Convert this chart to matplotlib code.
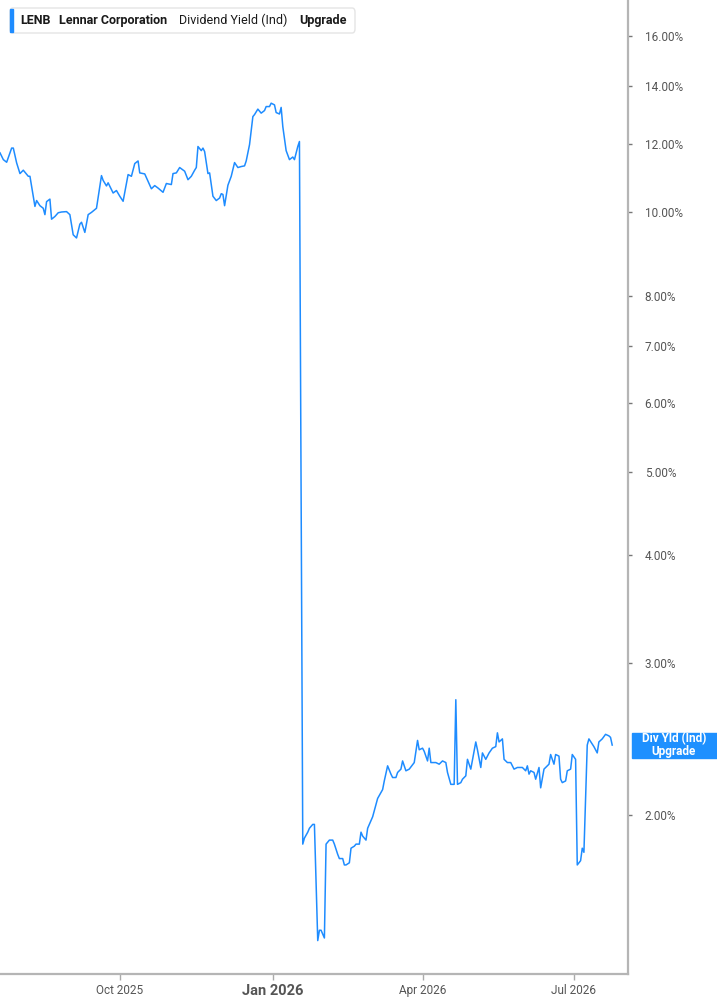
import matplotlib
matplotlib.use("Agg")
import matplotlib.pyplot as plt
import pandas as pd
from matplotlib.patches import FancyBboxPatch, Rectangle
from matplotlib.ticker import FixedLocator, FuncFormatter, NullLocator
import matplotlib.dates as mdates

plt.rcParams['font.family'] = ['Roboto', 'DejaVu Sans']

# LENB dividend yield (%)
dates = [
    '2025-07-21', '2025-07-23', '2025-07-25', '2025-07-28', '2025-07-29', '2025-07-31',
    '2025-08-02', '2025-08-04', '2025-08-07', '2025-08-08', '2025-08-11', '2025-08-12',
    '2025-08-14', '2025-08-16', '2025-08-17', '2025-08-18', '2025-08-20', '2025-08-21',
    '2025-08-23', '2025-08-25', '2025-08-27', '2025-08-30', '2025-09-01', '2025-09-03',
    '2025-09-05', '2025-09-07', '2025-09-08', '2025-09-10', '2025-09-12', '2025-09-14',
    '2025-09-17', '2025-09-20', '2025-09-21', '2025-09-23', '2025-09-24', '2025-09-27',
    '2025-09-29', '2025-10-01', '2025-10-03', '2025-10-06', '2025-10-08', '2025-10-10',
    '2025-10-12', '2025-10-13', '2025-10-16', '2025-10-18', '2025-10-20', '2025-10-22',
    '2025-10-24', '2025-10-27', '2025-10-29', '2025-11-01', '2025-11-02', '2025-11-04',
    '2025-11-06', '2025-11-09', '2025-11-11', '2025-11-13', '2025-11-15', '2025-11-16',
    '2025-11-17', '2025-11-19', '2025-11-20', '2025-11-21', '2025-11-23', '2025-11-24',
    '2025-11-26', '2025-11-28', '2025-11-30', '2025-12-01', '2025-12-02', '2025-12-03',
    '2025-12-05', '2025-12-07', '2025-12-09', '2025-12-11', '2025-12-13', '2025-12-15',
    '2025-12-16', '2025-12-18', '2025-12-20', '2025-12-21', '2025-12-23', '2025-12-25',
    '2025-12-27', '2025-12-28', '2025-12-30', '2025-12-31', '2026-01-02', '2026-01-03',
    '2026-01-05', '2026-01-06', '2026-01-07', '2026-01-09', '2026-01-11', '2026-01-13',
    '2026-01-14', '2026-01-16', '2026-01-17',
    '2026-01-19', '2026-01-20', '2026-01-22', '2026-01-23', '2026-01-25', '2026-01-26',
    '2026-01-28', '2026-01-29', '2026-01-30', '2026-02-01', '2026-02-02', '2026-02-04',
    '2026-02-06', '2026-02-07', '2026-02-09', '2026-02-10', '2026-02-12', '2026-02-13',
    '2026-02-14', '2026-02-16', '2026-02-17', '2026-02-19', '2026-02-20', '2026-02-22',
    '2026-02-23', '2026-02-24', '2026-02-26', '2026-02-27', '2026-03-01', '2026-03-02',
    '2026-03-05', '2026-03-08', '2026-03-09', '2026-03-11', '2026-03-13', '2026-03-14',
    '2026-03-16', '2026-03-17', '2026-03-19', '2026-03-20', '2026-03-22', '2026-03-24',
    '2026-03-27', '2026-03-29', '2026-03-30', '2026-04-01', '2026-04-02', '2026-04-04',
    '2026-04-05', '2026-04-06', '2026-04-09', '2026-04-11', '2026-04-13', '2026-04-15',
    '2026-04-16', '2026-04-18', '2026-04-20', '2026-04-21', '2026-04-22', '2026-04-24',
    '2026-04-25', '2026-04-27', '2026-04-28', '2026-04-30', '2026-05-03', '2026-05-04',
    '2026-05-06', '2026-05-07', '2026-05-09', '2026-05-11', '2026-05-13', '2026-05-15',
    '2026-05-16', '2026-05-17', '2026-05-19', '2026-05-20', '2026-05-22', '2026-05-24',
    '2026-05-25', '2026-05-26', '2026-05-28', '2026-05-29', '2026-05-31', '2026-06-02',
    '2026-06-03', '2026-06-04', '2026-06-05', '2026-06-07', '2026-06-08', '2026-06-10',
    '2026-06-11', '2026-06-13', '2026-06-15', '2026-06-16', '2026-06-17', '2026-06-19',
    '2026-06-20', '2026-06-22', '2026-06-23', '2026-06-24', '2026-06-26', '2026-06-27',
    '2026-06-29', '2026-06-30', '2026-07-02', '2026-07-03', '2026-07-05', '2026-07-06',
    '2026-07-07', '2026-07-09', '2026-07-10', '2026-07-13', '2026-07-15', '2026-07-16',
    '2026-07-18', '2026-07-20', '2026-07-22', '2026-07-23', '2026-07-24',
]
yields = [
    11.71, 11.50, 11.42, 11.86, 11.86, 11.40,
    11.08, 11.18, 11.00, 11.00, 10.15, 10.31,
    10.17, 10.10, 9.93, 10.28, 10.35, 9.81,
    9.88, 9.98, 10.00, 10.01, 9.93, 9.41,
    9.33, 9.68, 9.73, 9.47, 9.93, 9.99,
    10.10, 11.02, 10.88, 10.72, 10.81, 10.52,
    10.59, 10.43, 10.29, 11.05, 11.00, 11.38,
    11.46, 11.10, 11.07, 10.85, 10.64, 10.73,
    10.66, 10.54, 10.79, 10.76, 11.08, 11.10,
    11.26, 11.15, 10.90, 11.00, 11.18, 11.26,
    11.91, 11.78, 11.86, 11.75, 11.08, 11.10,
    10.43, 10.31, 10.38, 10.50, 10.48, 10.17,
    10.74, 11.00, 11.41, 11.26, 11.29, 11.31,
    11.46, 11.97, 12.90, 12.97, 13.16, 13.02,
    13.11, 13.25, 13.25, 13.37, 13.31, 13.04,
    12.99, 13.22, 12.56, 11.78, 11.50, 11.58,
    11.50, 11.91, 12.07,
    1.85, 1.88, 1.91, 1.93, 1.95, 1.95,
    1.43, 1.47, 1.47, 1.44, 1.85, 1.87,
    1.87, 1.85, 1.80, 1.78, 1.78, 1.75,
    1.75, 1.76, 1.83, 1.84, 1.85, 1.85,
    1.91, 1.89, 1.87, 1.93, 1.97, 1.99,
    2.09, 2.14, 2.19, 2.28, 2.23, 2.21,
    2.21, 2.24, 2.26, 2.31, 2.25, 2.26,
    2.30, 2.44, 2.38, 2.39, 2.37, 2.31,
    2.39, 2.30, 2.30, 2.29, 2.31, 2.30,
    2.24, 2.17, 2.17, 2.72, 2.17, 2.18,
    2.20, 2.22, 2.32, 2.26, 2.43, 2.38,
    2.27, 2.36, 2.32, 2.36, 2.39, 2.40,
    2.49, 2.43, 2.45, 2.32, 2.30, 2.30,
    2.28, 2.26, 2.27, 2.27, 2.27, 2.25,
    2.28, 2.23, 2.25, 2.24, 2.20, 2.27,
    2.15, 2.26, 2.28, 2.29, 2.35, 2.29,
    2.35, 2.34, 2.20, 2.18, 2.19, 2.25,
    2.26, 2.35, 2.32, 1.75, 1.77, 1.83,
    1.81, 2.41, 2.45, 2.40, 2.36, 2.43,
    2.45, 2.48, 2.47, 2.46, 2.41,
]

y_ticks = [2, 3, 4, 5, 6, 7, 8, 10, 12, 14, 16]
x_ticks = ['2025-10-01', '2026-01-01', '2026-04-01', '2026-07-01']
x_labels = ['Oct 2025', 'Jan 2026', 'Apr 2026', 'Jul 2026']

W, H = 717, 1005
BLUE = '#1e8cff'

fig = plt.figure(figsize=(W / 100, H / 100), dpi=100)
ax = fig.add_axes([0, 31 / H, 628 / W, 1 - 31 / H])

x = pd.to_datetime(dates)
ax.plot(x, yields, color=BLUE, lw=1.1)

ax.set_yscale('log')
ax.set_ylim(1.308, 17.61)
ax.set_xlim(pd.Timestamp('2025-07-21'), pd.Timestamp('2026-08-02 12:00'))

# y axis on the right
ax.yaxis.tick_right()
ax.yaxis.set_major_locator(FixedLocator(y_ticks))
ax.yaxis.set_minor_locator(NullLocator())
ax.yaxis.set_major_formatter(FuncFormatter(lambda v, p: f'{v:.2f}%'))
ax.tick_params(axis='y', length=3, width=1, color='#777777', pad=9,
               labelsize=8.5, labelcolor='#555555')

ax.set_xticks(pd.to_datetime(x_ticks))
ax.set_xticklabels(x_labels)
ax.tick_params(axis='x', length=4, width=1, color='#aaaaaa', pad=3,
               labelsize=8.5, labelcolor='#555555')
for lbl in ax.get_xticklabels():
    if lbl.get_text() == 'Jan 2026':
        lbl.set_fontweight('bold')
        lbl.set_fontsize(10.5)

for s in ['left', 'top']:
    ax.spines[s].set_visible(False)
for s in ['right', 'bottom']:
    ax.spines[s].set_color('#b5b5b5')
    ax.spines[s].set_linewidth(1.6)


def fx(px):
    return px / W


def fy(py):
    return 1 - py / H


# header box
fig.patches.append(FancyBboxPatch((fx(10), fy(33)), 345 / W, 25 / H,
                                  boxstyle='round,pad=0,rounding_size=0.004',
                                  transform=fig.transFigure, fc='white',
                                  ec='#e4e4e4', lw=1))
fig.patches.append(Rectangle((fx(10), fy(32)), 3 / W, 23 / H,
                             transform=fig.transFigure, color=BLUE))
hdr = [('LENB', 20, 'bold'), ('Lennar Corporation', 59, 'bold'),
       ('Dividend Yield (Ind)', 179, 'normal'), ('Upgrade', 299, 'bold')]
for txt, px, wt in hdr:
    fig.text(fx(px), fy(20.5), txt, fontsize=9, fontweight=wt, color='#1a1a1a',
             va='center', ha='left')

# last value label
y_last = ax.transData.transform((mdates.date2num(x[-1]), yields[-1]))[1]
fig.patches.append(Rectangle((fx(632), (y_last - 12.5) / H), (W - 632) / W, 25 / H,
                             transform=fig.transFigure, color='#1e90ff'))
fig.text(fx(674), y_last / H, 'Div Yld (Ind)\nUpgrade', color='white',
         fontsize=8.5, fontweight='bold', ha='center', va='center', linespacing=0.95)

fig.savefig('out.png', dpi=100)
